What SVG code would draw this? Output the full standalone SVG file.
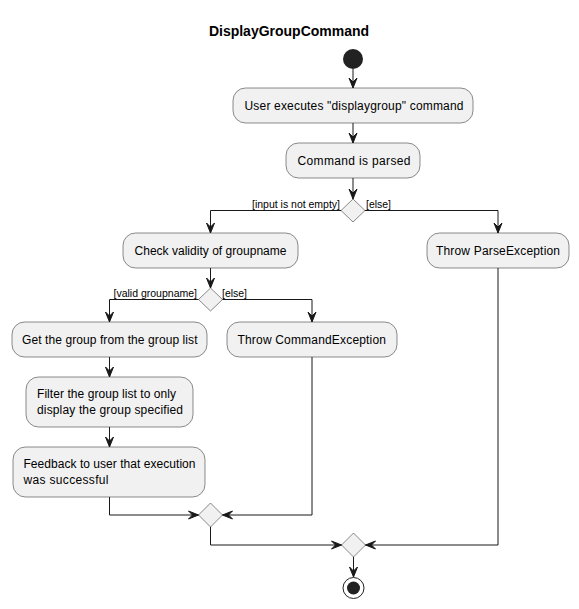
<svg xmlns="http://www.w3.org/2000/svg" width="579" height="609" viewBox="0 0 579 609">
<defs>
<style>
.box{fill:#F1F1F1;stroke:#181818;stroke-width:0.5}
.dia{fill:#F1F1F1;stroke:#181818;stroke-width:0.5}
.t{font-family:"Liberation Sans",Arial,sans-serif;font-size:12px;fill:#000}
.lb{font-family:"Liberation Sans",Arial,sans-serif;font-size:11px;fill:#000}
.ln{fill:none;stroke:#181818;stroke-width:1}
.ah{fill:#181818;stroke:#181818;stroke-width:1}
</style>
</defs>
<rect width="579" height="609" fill="#FFFFFF"/>
<text x="289" y="36" text-anchor="middle" style="font-family:'Liberation Sans',Arial,sans-serif;font-size:14px;font-weight:bold">DisplayGroupCommand</text>

<g id="start"><circle cx="353" cy="59" r="10" fill="#222222"/></g>
<g id="n1"><rect class="box" x="233" y="88" width="240" height="35" rx="12.5"/><text class="t" x="244.5" y="110" textLength="219" lengthAdjust="spacing">User executes "displaygroup" command</text></g>
<g id="n2"><rect class="box" x="286" y="143" width="134" height="35" rx="12.5"/><text class="t" x="297.5" y="165" textLength="113" lengthAdjust="spacing">Command is parsed</text></g>
<g id="d1"><polygon class="dia" points="353,199 365,210.5 353,222 341,210.5"/></g>
<g id="n3"><rect class="box" x="123" y="233" width="175" height="35" rx="12.5"/><text class="t" x="134.5" y="255" textLength="152" lengthAdjust="spacing">Check validity of groupname</text></g>
<g id="n4"><rect class="box" x="427" y="233" width="142" height="35" rx="12.5"/><text class="t" x="436" y="255" textLength="124" lengthAdjust="spacing">Throw ParseException</text></g>
<g id="d2"><polygon class="dia" points="210.5,288 222.5,299.5 210.5,311 198.5,299.5"/></g>
<g id="n5"><rect class="box" x="12" y="322" width="195" height="35" rx="12.5"/><text class="t" x="22" y="344" textLength="175.5" lengthAdjust="spacing">Get the group from the group list</text></g>
<g id="n6"><rect class="box" x="227" y="322" width="170" height="35" rx="12.5"/><text class="t" x="237.5" y="344" textLength="148.5" lengthAdjust="spacing">Throw CommandException</text></g>
<g id="n7"><rect class="box" x="26" y="377" width="167" height="50" rx="12.5"/><text class="t" x="37" y="398" textLength="139" lengthAdjust="spacing">Filter the group list to only</text><text class="t" x="37" y="414" textLength="146" lengthAdjust="spacing">display the group specified</text></g>
<g id="n8"><rect class="box" x="13" y="447" width="192" height="50" rx="12.5"/><text class="t" x="23.5" y="468" textLength="172" lengthAdjust="spacing">Feedback to user that execution</text><text class="t" x="23.5" y="484" textLength="85" lengthAdjust="spacing">was successful</text></g>
<g id="d3"><polygon class="dia" points="210.5,503 222.5,515 210.5,527 198.5,515"/></g>
<g id="d4"><polygon class="dia" points="353.5,533 365.5,545 353.5,557 341.5,545"/></g>
<g id="end"><circle cx="353.5" cy="588" r="10.5" fill="none" stroke="#222222" stroke-width="1"/><circle cx="353.5" cy="588" r="6.5" fill="#222222"/></g>

<g id="connectors">
<line class="ln" x1="353" y1="69" x2="353" y2="88"/>
<polygon class="ah" points="349,78 353,88 357,78 353,82"/>
<line class="ln" x1="353" y1="123" x2="353" y2="143"/>
<polygon class="ah" points="349,133 353,143 357,133 353,137"/>
<line class="ln" x1="353" y1="178" x2="353" y2="199"/>
<polygon class="ah" points="349,189 353,199 357,189 353,193"/>
<polyline class="ln" points="341,210.5 210.5,210.5 210.5,233"/>
<polygon class="ah" points="206.5,223 210.5,233 214.5,223 210.5,227"/>
<polyline class="ln" points="365,210.5 498,210.5 498,233"/>
<polygon class="ah" points="494,223 498,233 502,223 498,227"/>
<text class="lb" x="252" y="208" textLength="88" lengthAdjust="spacingAndGlyphs">[input is not empty]</text>
<text class="lb" x="366" y="208" textLength="25" lengthAdjust="spacingAndGlyphs">[else]</text>
<line class="ln" x1="210.5" y1="268" x2="210.5" y2="288"/>
<polygon class="ah" points="206.5,278 210.5,288 214.5,278 210.5,282"/>
<polyline class="ln" points="198.5,299.5 109.5,299.5 109.5,322"/>
<polygon class="ah" points="105.5,312 109.5,322 113.5,312 109.5,316"/>
<polyline class="ln" points="222.5,299.5 312,299.5 312,322"/>
<polygon class="ah" points="308,312 312,322 316,312 312,316"/>
<text class="lb" x="113.5" y="297" textLength="83.5" lengthAdjust="spacingAndGlyphs">[valid groupname]</text>
<text class="lb" x="222" y="297" textLength="25" lengthAdjust="spacingAndGlyphs">[else]</text>
<line class="ln" x1="109.5" y1="357" x2="109.5" y2="377"/>
<polygon class="ah" points="105.5,367 109.5,377 113.5,367 109.5,371"/>
<line class="ln" x1="109.5" y1="427" x2="109.5" y2="447"/>
<polygon class="ah" points="105.5,437 109.5,447 113.5,437 109.5,441"/>
<polyline class="ln" points="109.5,497 109.5,515 198.5,515"/>
<polygon class="ah" points="188.5,511 198.5,515 188.5,519 192.5,515"/>
<polyline class="ln" points="312,357 312,515 222.5,515"/>
<polygon class="ah" points="232.5,511 222.5,515 232.5,519 228.5,515"/>
<polyline class="ln" points="210.5,527 210.5,545 341.5,545"/>
<polygon class="ah" points="331.5,541 341.5,545 331.5,549 335.5,545"/>
<polyline class="ln" points="498,268 498,545 365.5,545"/>
<polygon class="ah" points="375.5,541 365.5,545 375.5,549 371.5,545"/>
<line class="ln" x1="353.5" y1="557" x2="353.5" y2="577"/>
<polygon class="ah" points="349.5,567 353.5,577 357.5,567 353.5,571"/>
</g>
</svg>
